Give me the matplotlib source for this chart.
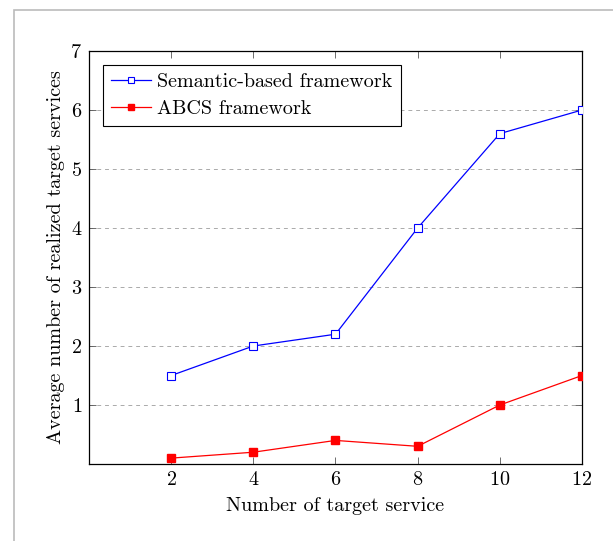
import matplotlib
matplotlib.use("Agg")
import matplotlib.pyplot as plt
from matplotlib.patches import Rectangle

# Datos del grafico
num_servicios = [2, 4, 6, 8, 10, 12]
semantic = [1.5, 2.0, 2.2, 4.0, 5.6, 6.0]
abcs = [0.1, 0.2, 0.4, 0.3, 1.0, 1.5]
xticks = [2, 4, 6, 8, 10, 12]
yticks = [1, 2, 3, 4, 5, 6, 7]

plt.rcParams['font.family'] = 'serif'
plt.rcParams['font.serif'] = ['cmr10']
plt.rcParams['mathtext.fontset'] = 'cm'
plt.rcParams['axes.formatter.use_mathtext'] = True

fs = 14.5

fig = plt.figure(figsize=(6.13, 5.41), dpi=100)
ax = fig.add_axes([0.1452, 0.1423, 0.9494 - 0.1452, 0.9057 - 0.1423])

# marco gris alrededor de la figura
fig.patches.append(Rectangle((13.5 / 613, -0.1), 1.2, (541 - 9.5) / 541 + 0.1,
                             transform=fig.transFigure, fill=False,
                             edgecolor='#bbbbbb', linewidth=1.2))

ax.plot(num_servicios, semantic, color='blue', marker='s', markersize=6,
        markerfacecolor='white', markeredgecolor='blue', markeredgewidth=0.8,
        linewidth=0.9, label='Semantic-based framework', zorder=3)
ax.plot(num_servicios, abcs, color='red', marker='s', markersize=6,
        markerfacecolor='red', markeredgecolor='red', linewidth=0.9,
        label='ABCS framework', zorder=3)

ax.set_xlim(0, 12)
ax.set_ylim(0, 7)
ax.set_xticks(xticks)
ax.set_yticks(yticks)
ax.tick_params(direction='in', top=True, right=True, length=5, width=0.6,
               labelsize=fs, colors='#555555', labelcolor='black', pad=5)
ax.yaxis.grid(True, linestyle=(0, (4, 4)), color='#aaaaaa', linewidth=0.7)
ax.set_axisbelow(True)
for s in ax.spines.values():
    s.set_linewidth(0.9)

ax.set_xlabel('Number of target service', fontsize=fs, labelpad=6)
ax.set_ylabel('Average number of realized target services', fontsize=fs, labelpad=4)

leg = ax.legend(loc='upper left', fontsize=fs, fancybox=False, framealpha=1,
                edgecolor='black', borderaxespad=0.7, handlelength=2.0,
                borderpad=0.4, labelspacing=0.45, markerscale=0.8,
                handletextpad=0.3)
leg.get_frame().set_linewidth(0.8)

fig.savefig('out.png', dpi=100)
